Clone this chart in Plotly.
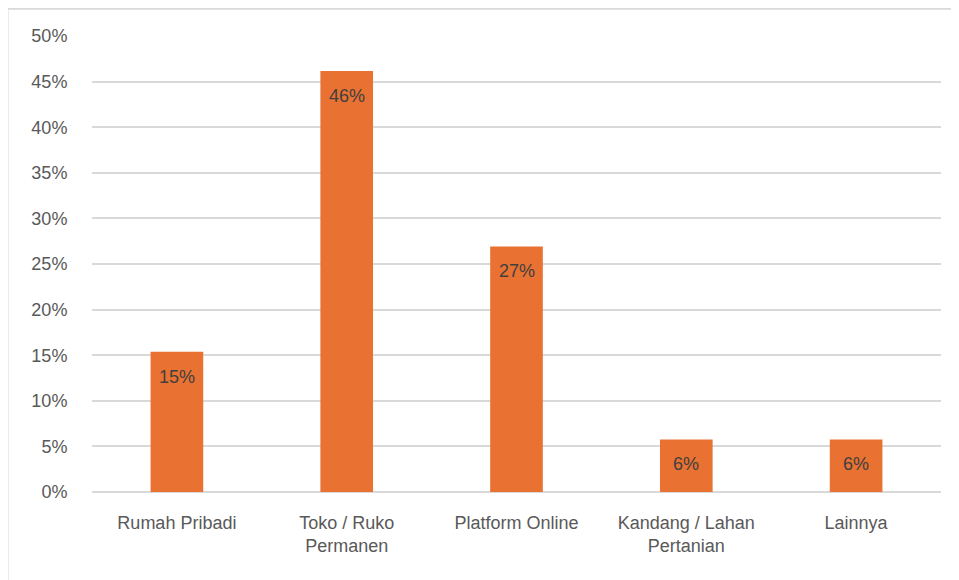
import plotly.graph_objects as go

# Data (share of respondents by place of business)
kategori = ["Rumah Pribadi", "Toko / Ruko<br>Permanen", "Platform Online",
            "Kandang / Lahan<br>Pertanian", "Lainnya"]
persentase = [0.1538, 0.4615, 0.2692, 0.0577, 0.0577]
label = ["15%", "46%", "27%", "6%", "6%"]

y_ticks = [0, 0.05, 0.10, 0.15, 0.20, 0.25, 0.30, 0.35, 0.40, 0.45, 0.50]
y_ticktext = ["0%", "5%", "10%", "15%", "20%", "25%", "30%", "35%", "40%", "45%", "50%"]

ORANGE = "#E97132"
GRID = "#D9D9D9"
FONT = "Liberation Sans"

fig = go.Figure()
fig.add_trace(go.Bar(
    x=kategori,
    y=persentase,
    marker=dict(color=ORANGE, line=dict(width=0)),
    hoverinfo="skip",
))

# data labels just below the top of each bar
for k, v, t in zip(kategori, persentase, label):
    fig.add_annotation(
        x=k, y=v, text=t, showarrow=False,
        yanchor="top", yshift=-13,
        font=dict(family=FONT, size=18, color="#404040"),
    )

# light frame of the chart area (only top and left edges are in view)
frame = dict(color="#D9D9D9", width=2)
fig.add_shape(type="line", xref="paper", yref="paper",
              x0=-0.0995, x1=1.2, y0=1.060, y1=1.060, line=frame, layer="below")
fig.add_shape(type="line", xref="paper", yref="paper",
              x0=-0.0995, x1=-0.0995, y0=-0.4, y1=1.060, line=frame, layer="below")

fig.update_layout(
    width=959,
    height=580,
    margin=dict(l=84, r=26, t=28, b=96),
    paper_bgcolor="white",
    plot_bgcolor="white",
    bargap=0.69,
    showlegend=False,
    font=dict(family=FONT, size=18, color="#595959"),
)
fig.update_xaxes(
    showgrid=False,
    showline=False,
    ticks="outside", ticklen=14, tickcolor="rgba(0,0,0,0)",
    tickfont=dict(family=FONT, size=18, color="#595959"),
)
fig.update_yaxes(
    range=[0, 0.5],
    tickvals=y_ticks,
    ticktext=y_ticktext,
    showgrid=True, gridcolor=GRID, gridwidth=1.5,
    zeroline=True, zerolinecolor=GRID, zerolinewidth=1.5,
    showline=False,
    ticks="outside", ticklen=20, tickcolor="rgba(0,0,0,0)",
    tickfont=dict(family=FONT, size=18, color="#595959"),
)

fig.write_html("out.html")
